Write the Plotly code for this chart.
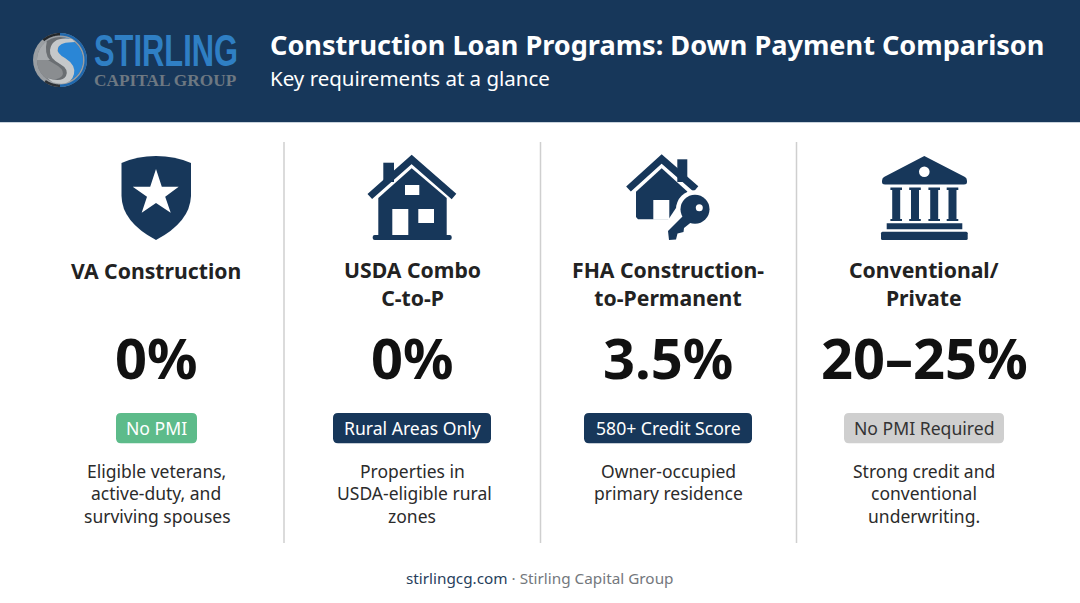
import math
import plotly.graph_objects as go

# ---- content ----
programs = ["VA Construction", "USDA Combo<br>C-to-P", "FHA Construction-<br>to-Permanent", "Conventional/<br>Private"]
down_payments = ["0%", "0%", "3.5%", "20–25%"]
badges = ["No PMI", "Rural Areas Only", "580+ Credit Score", "No PMI Required"]
descriptions = [
    ["Eligible veterans,", "active-duty, and", "surviving spouses"],
    ["Properties in", "USDA-eligible rural", "zones"],
    ["Owner-occupied", "primary residence"],
    ["Strong credit and", "conventional", "underwriting."],
]
title = "Construction Loan Programs: Down Payment Comparison"
subtitle = "Key requirements at a glance"

# ---- layout / style ----
W, H = 1080, 603
NAVY = "#17375a"
FONT = "Noto Sans"
centers = [156, 412, 668, 924]
badge_spans = [(116, 197), (333, 491), (584, 752), (844, 1004)]
badge_fill = ["#5dbb8a", NAVY, NAVY, "#cfcfcf"]
badge_text = ["#ffffff", "#ffffff", "#ffffff", "#333333"]

shapes = []
def add(path=None, fill=NAVY, line=None, lw=0, **kw):
    shapes.append(dict(type="path", path=path, fillcolor=fill,
                       line=dict(color=line or "rgba(0,0,0,0)", width=lw), layer="above", **kw))

def rect(x0, y0, x1, y1, fill=NAVY):
    add(f"M{x0},{y0}L{x1},{y0}L{x1},{y1}L{x0},{y1}Z", fill)

def rrect(x0, y0, x1, y1, r, fill=NAVY):
    add(f"M{x0+r},{y0}L{x1-r},{y0}Q{x1},{y0} {x1},{y0+r}L{x1},{y1-r}Q{x1},{y1} {x1-r},{y1}"
        f"L{x0+r},{y1}Q{x0},{y1} {x0},{y1-r}L{x0},{y0+r}Q{x0},{y0} {x0+r},{y0}Z", fill)

def circle(cx, cy, r, fill=NAVY, line=None, lw=0):
    shapes.append(dict(type="circle", x0=cx-r, x1=cx+r, y0=cy-r, y1=cy+r, fillcolor=fill,
                       line=dict(color=line or "rgba(0,0,0,0)", width=lw), layer="above"))

def poly(points, fill=NAVY, line=None, lw=0):
    add("M" + "L".join(f"{x},{y}" for x, y in points) + "Z", fill, line, lw)

def stroke(points, color=NAVY, lw=7):
    shapes.append(dict(type="path", path="M" + "L".join(f"{x},{y}" for x, y in points),
                       line=dict(color=color, width=lw), fillcolor="rgba(0,0,0,0)", layer="above"))

def arc(cx, cy, r, a0, a1, n=24):
    """Outline points of a circular arc; angles in degrees, clockwise on screen from +x."""
    return [(round(cx + r * math.cos(math.radians(a0 + (a1 - a0) * k / n)), 2),
             round(cy + r * math.sin(math.radians(a0 + (a1 - a0) * k / n)), 2)) for k in range(n + 1)]

def ring(cx, cy, r0, r1, a0, a1, fill):
    poly(arc(cx, cy, r1, a0, a1) + arc(cx, cy, r0, a1, a0), fill)

# header
rect(0, 0, W, 122)
rect(0, 122, W, 123, "#c9d3dc")

# logo
LX, LY = 60, 60
circle(LX, LY, 27, "#9a9ea2")
ring(LX, LY, 24.5, 27, -90, 90, "#1f68ae")
ring(LX, LY, 24.5, 27, -130, -90, "#23272b")
ring(LX, LY, 24.5, 27, 90, 125, "#2b3036")
circle(LX, LY, 23, "#6a6e72")
# blue lobe, right of the S
add("M" + "L".join(f"{x},{y}" for x, y in arc(LX, LY, 23, -85, 60))
    + "Q76,68 66,60Q56,54 58,48Q60,41 71,40Z", "#2a86d6")
# lower-left lobe
add("M" + "L".join(f"{x},{y}" for x, y in arc(LX, LY, 23, 125, 180))
    + "L48,60L58,66Q65,71 62,76Q58,81 47,78Z", "#8a8d90")
# upper-left highlight
add("M" + "L".join(f"{x},{y}" for x, y in arc(LX, LY, 23, 180, 235))
    + "Q44,54 50,60L37,60Z", "#a8abae")
# silver S band
add("M72,39Q52,36 50,50Q49,58 60,64Q69,69 66,76Q62,83 47,78L53,82.5Q71,87 74,74Q76,65 65,58Q56,53 58,48Q60,42 75,42Z", "#c5c8ca")

# dividers
for x in [284, 540.5, 796.5]:
    shapes.append(dict(type="line", x0=x, x1=x, y0=142, y1=543, line=dict(color="#cfcfcf", width=1.5), layer="above"))

# shield
add("M156,156Q175,156 191,163L191,196Q190,222 156,240Q122,222 121.5,196L121.5,163Q137,156 156,156Z")
poly([(156,169),(161.8,186.7),(178.7,186.7),(165.2,196.8),(170.7,212.7),(156,203),(141.7,212.7),(147,196.8),(132.7,186.7),(150.2,186.7)], "#ffffff")

# house
rect(383.3, 162.7, 394, 182)
stroke([(369.8,196.5),(411.7,159.5),(454,196.5)])
poly([(411.7,168.3),(446.7,198),(446.7,236),(378.3,236),(378.3,198)])
rrect(372.7, 235, 451.7, 240, 2)
rect(405, 185, 419.3, 195, "#ffffff")
rect(392.3, 209, 408.3, 235, "#ffffff")
rect(418.3, 209, 434, 223, "#ffffff")

# house with key
rect(677.3, 159.3, 687.3, 182)
stroke([(628.5,189),(661.7,159),(696,189)])
poly([(661.7,168.3),(687.3,191.5),(687.3,219.3),(638,219.3),(636,217),(636,191.7)])
rect(653.3, 200, 669.3, 219.6, "#ffffff")
circle(695, 209.3, 19, "#ffffff")
poly([(676,208),(692,226),(676,244),(660,232)], "#ffffff")
circle(695, 209.3, 14.5)
poly([(687,212),(694,220),(684,228),(683.5,232),(677.5,233.5),(676,239.5),(669,240),(668,231)])
circle(699.3, 207.7, 3.5, "#ffffff")

# bank
add("M924.3,156L965,177Q967,178 967,181L967,182Q967,184.5 964,184.5L885,184.5Q882,184.5 882,182L882,181Q882,178 884,177Z")
circle(924.3, 171.7, 5.3, "#ffffff")
for cx in [896.2, 915, 934.2, 952.5]:
    rect(cx-5.8, 187.5, cx+5.8, 190)
    rect(cx-4, 190, cx+4, 219)
    rect(cx-5.8, 219, cx+5.8, 221)
rect(886.7, 223.3, 962.3, 229.3)
rrect(881, 231.7, 967.7, 240, 1.5)

# badges
for (x0, x1), fill in zip(badge_spans, badge_fill):
    rrect(x0, 413, x1, 443.3, 5, fill)

ann = []
def text(x, y, s, size, color="#222222", bold=False, anchor="center", family=FONT):
    ann.append(dict(x=x, y=y, xref="x", yref="y", text=f"<b>{s}</b>" if bold else s, showarrow=False,
                    xanchor=anchor, yanchor="middle", align=anchor if anchor != "middle" else "center",
                    font=dict(size=size, color=color, family=family)))

text(92, 50, "STIRLING", 44, "#2f7fc4", True, "left", "Liberation Sans")
text(92, 80, "CAPITAL GROUP", 17.3, "#6d7882", True, "left", "Liberation Serif")
text(268, 44, title, 27.1, "#ffffff", True, "left")
text(268, 78, subtitle, 20.5, "#ffffff", False, "left")

line_nudge = {(0, 2): 1, (1, 1): 2}
for i, cx in enumerate(centers):
    y = 270.5 if "<br>" not in programs[i] else 283.5
    ann.append(dict(x=cx, y=y, xref="x", yref="y", text=f"<b>{programs[i].replace('<br>', '</b><br><b>')}</b>",
                    showarrow=False, xanchor="center", yanchor="middle", align="center",
                    font=dict(size=21.2, color="#222222", family=FONT)))
    text(cx, 356.5, down_payments[i], 56, "#111111", True)
    text(cx, 427.5, badges[i], 17.6, badge_text[i])
    for j, line in enumerate(descriptions[i]):
        text(cx + line_nudge.get((i, j), 0), 470.5 + j * 22.5, line, 17.5, "#2b2b2b")

text(540, 578, '<span style="color:#27405c">stirlingcg.com</span> · Stirling Capital Group', 15.3, "#74787d")

# the logotype is a condensed face: squeeze the real text to its width
squeeze = """
document.body.style.margin='0';document.documentElement.style.overflow='hidden';
function squeezeLogo(){
  document.querySelectorAll('.annotation-text').forEach(function(t){
    if(t.textContent==='STIRLING' && !t.dataset.sq){
      var b=t.getBBox();
      t.dataset.sq='1';
      var k=144/b.width;
      t.setAttribute('transform','translate('+b.x+',0) scale('+k+',1) translate('+(-b.x)+',0)');
    }
  });
}
squeezeLogo();setTimeout(squeezeLogo,50);setTimeout(squeezeLogo,300);
"""

fig = go.Figure()
fig.update_layout(
    width=W, height=H, margin=dict(l=0, r=0, t=0, b=0), autosize=False,
    paper_bgcolor="#ffffff", plot_bgcolor="#ffffff", showlegend=False,
    xaxis=dict(range=[0, W], visible=False, fixedrange=True),
    yaxis=dict(range=[H, 0], visible=False, fixedrange=True),
    shapes=shapes, annotations=ann,
)
fig.write_html("out.html", config={"displayModeBar": False}, post_script=squeeze)
